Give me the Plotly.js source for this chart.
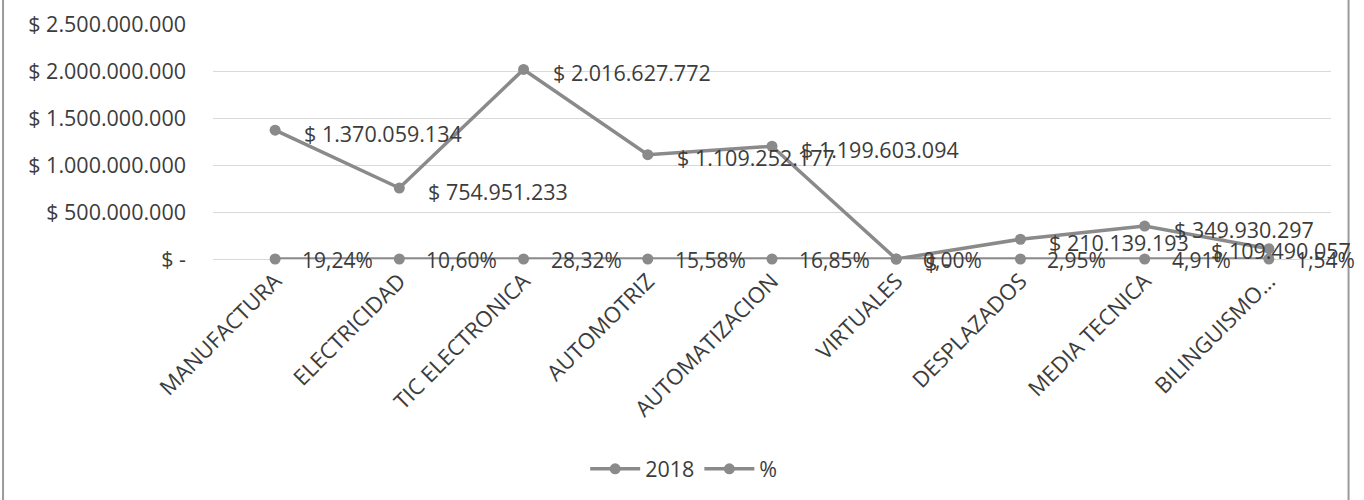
<!DOCTYPE html>
<html>
<head>
<meta charset="utf-8">
<script src="https://cdn.plot.ly/plotly-3.0.1.min.js"></script>
<style>
  html, body { margin: 0; padding: 0; background: #ffffff; overflow: hidden; }
  #chart { width: 1364px; height: 500px; }
</style>
</head>
<body>
<div id="chart"></div>
<script>
// ---- data ----
const categories = ["MANUFACTURA", "ELECTRICIDAD", "TIC ELECTRONICA", "AUTOMOTRIZ", "AUTOMATIZACION", "VIRTUALES", "DESPLAZADOS", "MEDIA TECNICA", "BILINGUISMO…"];
const values2018 = [1370059134, 754951233, 2016627772, 1109252177, 1199603094, 0, 210139193, 349930297, 109490057];
const percentages = [0.1924, 0.1060, 0.2832, 0.1558, 0.1685, 0.0000, 0.0295, 0.0491, 0.0154];
const yTickVals = [0, 500000000, 1000000000, 1500000000, 2000000000, 2500000000];
const yTickText = ["$ -", "$ 500.000.000", "$ 1.000.000.000", "$ 1.500.000.000", "$ 2.000.000.000", "$ 2.500.000.000"];
const seriesNames = ["2018", "%"];

// ---- helpers ----
function fmtMoney(v) {
  if (v === 0) return "$ -";
  return "$ " + Math.round(v).toString().replace(/\B(?=(\d{3})+(?!\d))/g, ".");
}
function fmtPct(p) {
  return (p * 100).toFixed(2).replace(".", ",") + "%";
}

const FONT = "Open Sans, Noto Sans, sans-serif";
const TXT = "#3c3c3c";
const LINE = "#8a8a8a";
const FS = 21.5;

const traces = [
  {
    x: categories, y: values2018, name: seriesNames[0], type: "scatter", mode: "lines+markers",
    line: { color: LINE, width: 3.5 }, marker: { color: LINE, size: 11 }, cliponaxis: false
  },
  {
    x: categories, y: percentages, name: seriesNames[1], type: "scatter", mode: "lines+markers",
    line: { color: LINE, width: 3.5 }, marker: { color: LINE, size: 11 }, cliponaxis: false
  }
];

const annotations = [];
const last = categories.length - 1;
categories.forEach((c, i) => {
  // the last money label is pushed back inside the chart's right edge, as in the reference
  const fitsRight = i !== last;
  annotations.push({
    x: c, y: values2018[i], xref: "x", yref: "y", text: fmtMoney(values2018[i]),
    showarrow: false, xanchor: fitsRight ? "left" : "right", yanchor: "middle",
    xshift: fitsRight ? 27 : 84, yshift: fitsRight ? -3 : -2,
    font: { family: FONT, size: FS, color: TXT }
  });
  annotations.push({
    x: c, y: percentages[i], xref: "x", yref: "y", text: fmtPct(percentages[i]),
    showarrow: false, xanchor: "left", yanchor: "middle", xshift: 25, yshift: -1,
    font: { family: FONT, size: 21, color: TXT }
  });
});

const layout = {
  width: 1364, height: 500,
  margin: { l: 213, r: 33, t: 24, b: 240 },
  paper_bgcolor: "#ffffff", plot_bgcolor: "#ffffff",
  font: { family: FONT, size: FS, color: TXT },
  showlegend: true,
  legend: {
    orientation: "h", x: 0.421, xanchor: "center", y: -0.885, yanchor: "middle",
    itemwidth: 50,
    font: { family: FONT, size: FS, color: TXT }
  },
  xaxis: {
    type: "category", range: [-0.5, 8.5], tickangle: -45,
    showgrid: false, zeroline: false, showline: false, ticks: "",
    ticklabelstandoff: 4,
    tickfont: { family: FONT, size: 22, color: TXT }
  },
  yaxis: {
    range: [0, 2500000000], tickvals: yTickVals, ticktext: yTickText,
    showgrid: true, gridcolor: "#d9d9d9", gridwidth: 1,
    zeroline: true, zerolinecolor: "#d9d9d9", zerolinewidth: 1,
    showline: false, ticks: "", ticklabelstandoff: 26,
    tickfont: { family: FONT, size: FS, color: TXT }
  },
  annotations: annotations,
  shapes: [
    { type: "rect", xref: "paper", yref: "paper", layer: "below",
      x0: -0.1878, x1: 1.0157, y0: -1.1, y1: 1.15,
      line: { color: "#9a9a9a", width: 2 }, fillcolor: "rgba(0,0,0,0)" }
  ]
};

Plotly.newPlot("chart", traces, layout, { displayModeBar: false, staticPlot: true });
</script>
</body>
</html>
